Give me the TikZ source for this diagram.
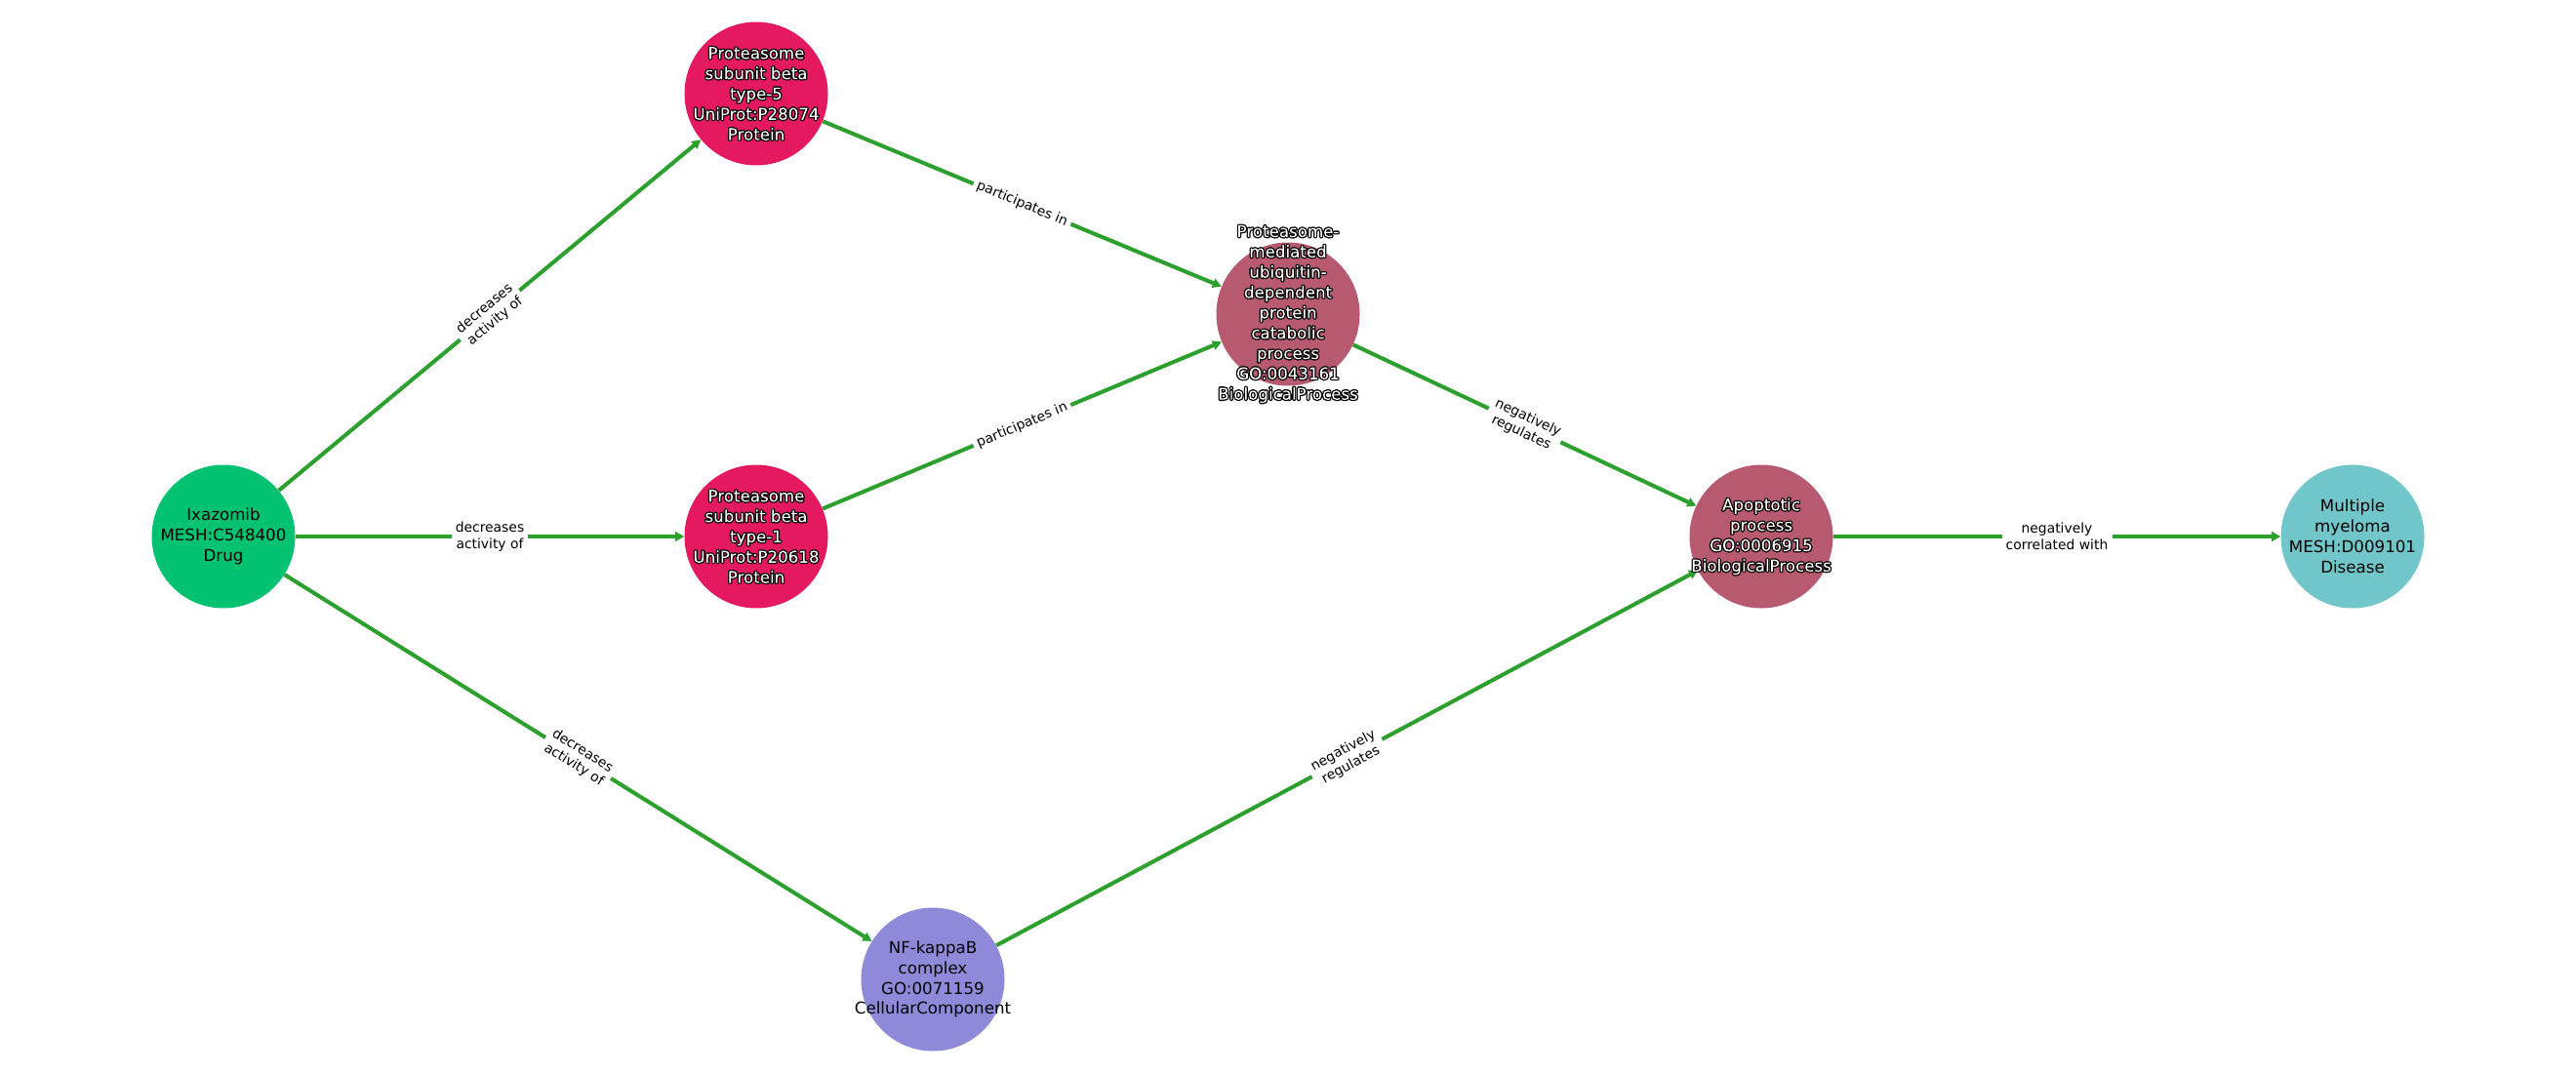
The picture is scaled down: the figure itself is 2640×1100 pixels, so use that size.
\documentclass[tikz,border=0pt]{standalone}
\usepackage{fontspec}
\setmainfont{DejaVu Sans}
\usetikzlibrary{arrows.meta}
\definecolor{cdrug}{HTML}{00C271}
\definecolor{cprot}{HTML}{E5195F}
\definecolor{cbio}{HTML}{B85A6F}
\definecolor{cdis}{HTML}{71C6CA}
\definecolor{ccell}{HTML}{8E89D9}
\definecolor{cedge}{HTML}{2CA02C}
% white text with a black outline: stroke + clip, then white fill inside the glyphs
\newcommand\olbegin{\special{pdf:literal direct q 5 Tr 1.9 w 1 j 0 0 0 RG}}
\newcommand\olend{\rlap{\rule{0.5pt}{0.5pt}}\special{pdf:literal direct 1 1 1 rg -3000 -3000 6000 6000 re f Q}}
\pgfdeclarelayer{edgelayer}
\pgfsetlayers{edgelayer,main}
\begin{document}
\begin{tikzpicture}[x=0.72pt,y=-0.72pt,
  ent/.style={circle, minimum size=105.84pt, inner sep=0pt},
  blab/.style={align=center, inner sep=0pt, font=\fontsize{12}{15}\selectfont, text=black},
  wlab/.style={align=center, inner sep=0pt, font=\fontsize{12}{15}\selectfont, text=white},
  rel/.style={draw=cedge, line width=2.9pt, -{Triangle[length=6.5pt,width=6.8pt]}},
  elab/.style={fill=white, inner xsep=3pt, inner ysep=1.5pt, align=center, text=black,
    font=\fontsize{10}{12}\selectfont, sloped, midway}]
\useasboundingbox (0,0) rectangle (2640,1100);
\begin{pgfonlayer}{edgelayer}
\fill[white] (0,0) rectangle (2640,1100);
\end{pgfonlayer}
% nodes
\node[ent, fill=cdrug, label={[blab]center:{Ixazomib\\MESH:C548400\\Drug}}] (ix) at (229,550) {};
\node[ent, fill=cprot, label={[wlab]center:{\olbegin Proteasome\\subunit beta\\type-5\\UniProt:P28074\\Protein\olend}}] (p5) at (775,96) {};
\node[ent, fill=cprot, label={[wlab]center:{\olbegin Proteasome\\subunit beta\\type-1\\UniProt:P20618\\Protein\olend}}] (p1) at (775,550) {};
\node[ent, fill=cbio, label={[wlab]center:{\olbegin Proteasome-\\mediated\\ubiquitin-\\dependent\\protein\\catabolic\\process\\GO:0043161\\BiologicalProcess\olend}}] (pm) at (1320,322) {};
\node[ent, fill=cbio, label={[wlab]center:{\olbegin Apoptotic\\process\\GO:0006915\\BiologicalProcess\olend}}] (ap) at (1805,550) {};
\node[ent, fill=cdis, label={[blab]center:{Multiple\\myeloma\\MESH:D009101\\Disease}}] (mm) at (2411,550) {};
\node[ent, fill=ccell, label={[blab]center:{NF-kappaB\\complex\\GO:0071159\\CellularComponent}}] (nf) at (956,1004) {};
% edges
\begin{pgfonlayer}{edgelayer}
\draw[rel] (ix) -- node[elab] {decreases\\activity of} (p5);
\draw[rel] (ix) -- node[elab] {decreases\\activity of} (p1);
\draw[rel] (ix) -- node[elab] {decreases\\activity of} (nf);
\draw[rel] (p5) -- node[elab] {participates in} (pm);
\draw[rel] (p1) -- node[elab] {participates in} (pm);
\draw[rel] (pm) -- node[elab] {negatively\\regulates} (ap);
\draw[rel] (nf) -- node[elab] {negatively\\regulates} (ap);
\draw[rel] (ap) -- node[elab] {negatively\\correlated with} (mm);
\end{pgfonlayer}
\end{tikzpicture}
\end{document}
